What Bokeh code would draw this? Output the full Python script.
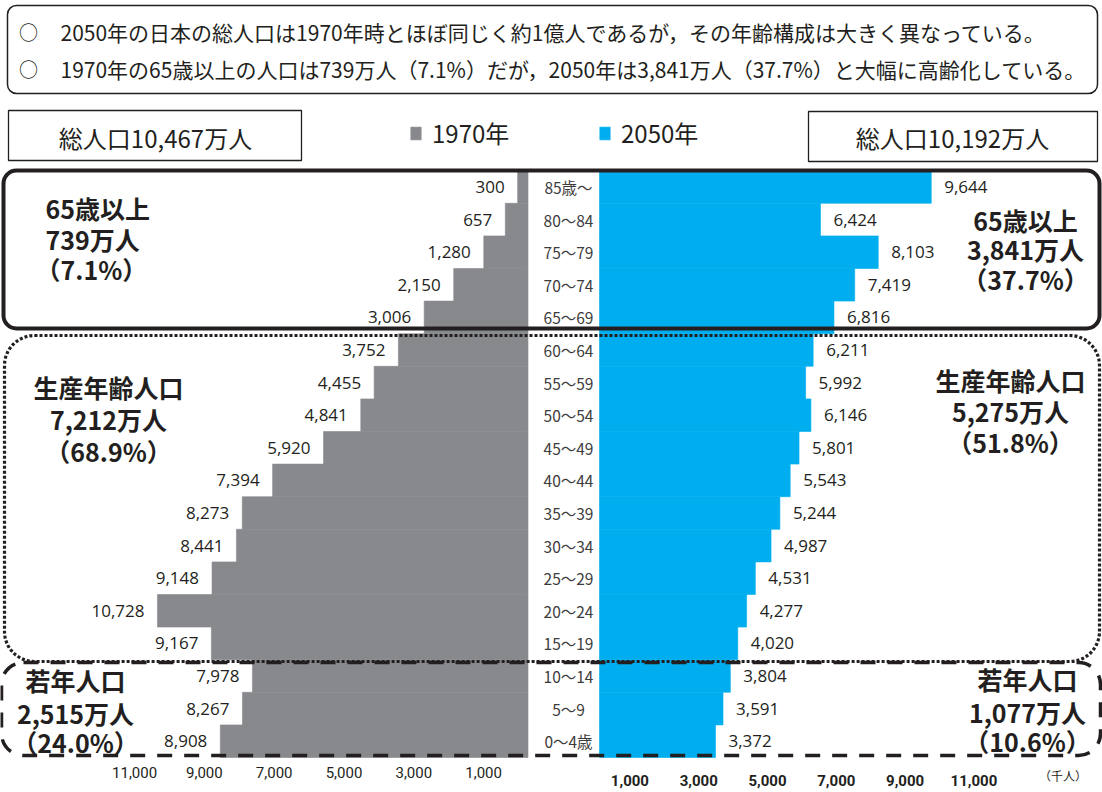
import numpy as np
from bokeh.plotting import figure
from bokeh.models import (Range1d, BoxAnnotation, Legend, LegendItem, FixedTicker,
                          NumeralTickFormatter, Div)
from bokeh.layouts import column, row
from bokeh.core.properties import value
from bokeh.embed import file_html
from bokeh.resources import INLINE

# ---------------- data ----------------
ages = ["85歳～", "80～84", "75～79", "70～74", "65～69", "60～64", "55～59", "50～54",
        "45～49", "40～44", "35～39", "30～34", "25～29", "20～24", "15～19", "10～14",
        "5～9", "0～4歳"]
pop_1970 = [300, 657, 1280, 2150, 3006, 3752, 4455, 4841, 5920, 7394, 8273, 8441,
            9148, 10728, 9167, 7978, 8267, 8908]
pop_2050 = [9644, 6424, 8103, 7419, 6816, 6211, 5992, 6146, 5801, 5543, 5244, 4987,
            4531, 4277, 4020, 3804, 3591, 3372]
axis_ticks = [1000, 3000, 5000, 7000, 9000, 11000]
unit_label = "（千人）"
series_names = ["1970年", "2050年"]
totals = ["総人口10,467万人", "総人口10,192万人"]
notes = ["2050年の日本の総人口は1970年時とほぼ同じく約1億人であるが，その年齢構成は大きく異なっている。",
         "1970年の65歳以上の人口は739万人（7.1%）だが，2050年は3,841万人（37.7%）と大幅に高齢化している。"]
groups_1970 = [["65歳以上", "739万人", "（7.1%）"],
               ["生産年齢人口", "7,212万人", "（68.9%）"],
               ["若年人口", "2,515万人", "（24.0%）"]]
groups_2050 = [["65歳以上", "3,841万人", "（37.7%）"],
               ["生産年齢人口", "5,275万人", "（51.8%）"],
               ["若年人口", "1,077万人", "（10.6%）"]]

GRAY = "#88898d"
BLUE = "#00aeef"
INK = "#231f20"
JP = "Noto Sans CJK JP"

W, H = 1102, 760
# pixel geometry of the two bar scales
ZL, SL = 527.5, 0.03454   # 1970: zero position, px per thousand
ZR, SR = 599.0, 0.0344    # 2050
BASE, BAND = 757.0, 32.6  # bottom of 0-4 band, band height

p = figure(width=W, height=H, x_range=Range1d(0, W), y_range=Range1d(H, 0),
           output_backend="svg", toolbar_location=None, min_border=0,
           x_axis_location=None, y_axis_location=None, outline_line_color=None)
p.grid.visible = False
p.extra_x_ranges = {"left": Range1d(ZL / SL, -(W - ZL) / SL),
                    "right": Range1d(-ZR / SR, (W - ZR) / SR)}
p.extra_y_ranges = {"age": Range1d(-(H - BASE) / BAND, BASE / BAND)}

ypos = np.arange(len(ages))[::-1] + 0.5

r1 = p.hbar(y=ypos, left=0, right=pop_1970, height=1, x_range_name="left", y_range_name="age",
            fill_color=GRAY, line_color=GRAY, line_width=0.6)
r2 = p.hbar(y=ypos, left=0, right=pop_2050, height=1, x_range_name="right", y_range_name="age",
            fill_color=BLUE, line_color=BLUE, line_width=0.6)

# value labels
p.text(x=pop_1970, y=ypos, text=[f"{v:,}" for v in pop_1970], x_range_name="left",
       y_range_name="age", x_offset=-13, text_align="right", text_baseline="middle",
       text_font=value("Open Sans"), text_font_size="17px", text_color=INK)
p.text(x=pop_2050, y=ypos, text=[f"{v:,}" for v in pop_2050], x_range_name="right",
       y_range_name="age", x_offset=13, text_align="left", text_baseline="middle",
       text_font=value("Open Sans"), text_font_size="17px", text_color=INK)
# age labels
p.text(x=568, y=ypos, text=ages, y_range_name="age", text_align="center",
       text_baseline="middle", text_font=value(JP), text_font_size="15.5px",
       text_color="#3c3c3c")

BOX = dict(fill_alpha=0, line_color=INK, line_alpha=1)

# top note box
p.add_layout(BoxAnnotation(left=7, right=1097, top=5, bottom=93, border_radius=9,
                           line_width=1.5, **BOX))
p.text(x=[28, 28], y=[31, 68], text=["○", "○"], text_align="center", text_baseline="middle",
       text_font=value(JP), text_font_size="19px", text_color=INK)
p.text(x=[60, 60], y=[31, 68], text=notes, text_align="left", text_baseline="middle",
       text_font=value(JP), text_font_size="21px", text_color=INK)

# totals boxes
p.add_layout(BoxAnnotation(left=8, right=301, top=110, bottom=160, line_width=1.3, **BOX))
p.add_layout(BoxAnnotation(left=808, right=1097, top=111, bottom=161, line_width=1.3, **BOX))
p.text(x=[155, 952], y=[137, 137], text=totals, text_align="center", text_baseline="middle",
       text_font=value(JP), text_font_size="24px", text_color=INK)

# legend
for r, name, x0 in [(r1, series_names[0], 409), (r2, series_names[1], 598)]:
    leg = Legend(items=[LegendItem(label=name, renderers=[r])], location=(x0, H - 137 - 13),
                 orientation="horizontal", glyph_width=13, glyph_height=16,
                 label_text_font=JP, label_text_font_size="24px", label_text_color=INK,
                 label_standoff=10, padding=0, margin=0, border_line_color=None,
                 background_fill_alpha=0, label_height=16)
    p.add_layout(leg)

# group boxes
p.add_layout(BoxAnnotation(left=3, right=1099, top=170, bottom=328, border_radius=13,
                           line_width=4, **BOX))
p.add_layout(BoxAnnotation(left=4, right=1099, top=335, bottom=661, border_radius=30,
                           line_width=3.2, line_dash="3 2", **BOX))
p.add_layout(BoxAnnotation(left=1, right=1100, top=662, bottom=755, border_radius=22,
                           line_width=3.5, line_dash="15 12", **BOX))

# group labels
BOLD = dict(text_font=value(JP), text_font_size="25px", text_font_style="bold",
            text_color=INK, text_baseline="middle")
p.text(x=[45, 45, 35], y=[207, 238, 268], text=groups_1970[0], text_align="left", **BOLD)
p.text(x=[108] * 3, y=[386, 418, 450], text=groups_1970[1], text_align="center", **BOLD)
p.text(x=[75] * 3, y=[679, 712, 741], text=groups_1970[2], text_align="center", **BOLD)
p.text(x=[1025] * 3, y=[219, 248, 278], text=groups_2050[0], text_align="center", **BOLD)
p.text(x=[1010] * 3, y=[379, 410, 441], text=groups_2050[1], text_align="center", **BOLD)
p.text(x=[1027] * 3, y=[678, 711, 740], text=groups_2050[2], text_align="center", **BOLD)

# ---------------- bottom axes ----------------
def axis_fig(width, xr, standoff, style):
    f = figure(width=width, height=32, x_range=xr, y_range=Range1d(0, 1),
               output_backend="svg", toolbar_location=None, min_border=0,
               min_border_bottom=28, y_axis_location=None, outline_line_color=None)
    f.grid.visible = False
    ax = f.xaxis[0]
    ax.ticker = FixedTicker(ticks=axis_ticks)
    ax.formatter = NumeralTickFormatter(format="0,0")
    ax.axis_line_color = None
    ax.major_tick_line_color = None
    ax.minor_tick_line_color = None
    ax.major_tick_out = 0
    ax.major_tick_in = 0
    ax.major_label_standoff = standoff
    ax.major_label_text_font = "Roboto"
    ax.major_label_text_font_size = "15px"
    ax.major_label_text_font_style = style
    ax.major_label_text_color = INK
    return f

LW, RW, UW = 560, 470, W - 560 - 470
LZ, LS = 518.0, 0.0349   # left tick-label scale
RZ, RS = 595.0 - LW, 0.0344
lf = axis_fig(LW, Range1d(LZ / LS, -(LW - LZ) / LS), 2, "normal")
rf = axis_fig(RW, Range1d(-RZ / RS, (RW - RZ) / RS), 10, "bold")
unit = Div(text=unit_label, width=UW, height=32, margin=0,
           styles={"font-family": JP, "font-size": "12px", "color": INK,
                   "padding-top": "10px", "padding-left": "9px", "line-height": "1"})

layout = column(p, row(lf, rf, unit))
open("out.html", "w").write(file_html(layout, INLINE))
